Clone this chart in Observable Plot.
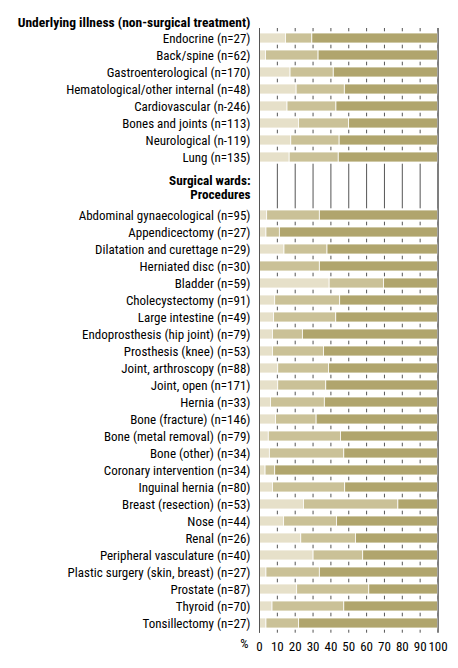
<!DOCTYPE html>
<html>
<head>
<meta charset="utf-8">
<script src="https://cdn.jsdelivr.net/npm/d3@7"></script>
<script src="https://cdn.jsdelivr.net/npm/@observablehq/plot@0.6"></script>
<style>
  html, body { margin: 0; padding: 0; background: #fff; }
  #chart svg { display: block; font-stretch: condensed; }
  #chart svg text { font-stretch: condensed; }
</style>
</head>
<body>
<div id="chart"></div>
<script>
// ---------- data ----------
const sectionTitle = "Underlying illness (non-surgical treatment)";
const surgicalHeader = ["Surgical wards:", "Procedures"];

const underlyingLabels = [
  "Endocrine (n=27)",
  "Back/spine (n=62)",
  "Gastroenterological (n=170)",
  "Hematological/other internal (n=48)",
  "Cardiovascular (n-246)",
  "Bones and joints (n=113)",
  "Neurological (n-119)",
  "Lung (n=135)"
];
const underlyingLow  = [14.8, 3.6, 17.4, 20.8, 15.7, 22.1, 17.8, 16.9];
const underlyingMid  = [14.8, 29.5, 24.2, 27.0, 27.4, 28.1, 27.1, 27.5];
const underlyingHigh = [70.4, 66.9, 58.4, 52.2, 56.9, 49.8, 55.1, 55.6];

const surgicalLabels = [
  "Abdominal gynaecological (n=95)",
  "Appendicectomy (n=27)",
  "Dilatation and curettage n=29)",
  "Herniated disc (n=30)",
  "Bladder (n=59)",
  "Cholecystectomy (n=91)",
  "Large intestine (n=49)",
  "Endoprosthesis (hip joint) (n=79)",
  "Prosthesis (knee) (n=53)",
  "Joint, arthroscopy (n=88)",
  "Joint, open (n=171)",
  "Hernia (n=33)",
  "Bone (fracture) (n=146)",
  "Bone (metal removal) (n=79)",
  "Bone (other) (n=34)",
  "Coronary intervention (n=34)",
  "Inguinal hernia (n=80)",
  "Breast (resection) (n=53)",
  "Nose (n=44)",
  "Renal (n=26)",
  "Peripheral vasculature (n=40)",
  "Plastic surgery (skin, breast) (n=27)",
  "Prostate (n=87)",
  "Thyroid (n=70)",
  "Tonsillectomy (n=27)"
];
const surgicalLow  = [4.3, 3.9, 14.0, 0, 39.3, 8.8, 8.2, 7.5, 7.5, 10.5, 10.5, 6.4, 9.3, 5.2, 5.8, 3.4, 7.5, 24.9, 13.8, 23.4, 30.3, 3.9, 21.1, 7.3, 3.9];
const surgicalMid  = [29.5, 7.5, 24.1, 33.8, 30.4, 36.4, 34.8, 16.8, 28.6, 28.4, 26.9, 30.2, 22.7, 40.4, 41.7, 5.4, 40.5, 52.9, 29.6, 30.6, 27.8, 29.9, 40.4, 40.2, 18.3];
const surgicalHigh = [66.2, 88.6, 61.9, 66.2, 30.3, 54.8, 57.0, 75.7, 63.9, 61.1, 62.6, 63.4, 68.0, 54.4, 52.5, 91.2, 52.0, 22.2, 56.6, 46.0, 41.9, 66.2, 38.5, 52.5, 77.8];

const shareNames  = ["low", "mid", "high"];
const shareColors = ["#e6e0c9", "#cac197", "#b0a56d"];
const xTicks = [0, 10, 20, 30, 40, 50, 60, 70, 80, 90, 100];
const percentSign = "%";

// ---------- helpers ----------
const FONT = "'Roboto Condensed', Roboto, sans-serif";
const FS = 13;
const INK = "#000";

function makeRows(labels, low, mid, high) {
  return labels.map((label, i) => ({label, low: low[i], mid: mid[i], high: high[i]}));
}
function toLong(rows) {
  return rows.flatMap(r => shareNames.map(s => ({label: r.label, share: s, value: r[s]})));
}

function barMarks(rows) {
  return [
    Plot.ruleX(xTicks, {stroke: "#555", strokeWidth: 1}),
    Plot.barX(rows, {x: d => d.low + d.mid + d.high, y: "label", fill: "#fff", insetTop: -1.7, insetBottom: -1.7, insetLeft: 0.5}),
    Plot.barX(toLong(rows), Plot.stackX({
      x: "value", y: "label", fill: "share", order: shareNames,
      stroke: "#fff", strokeWidth: 0.8
    })),
    Plot.ruleX([xTicks[0], xTicks[xTicks.length - 1]], {stroke: "#555", strokeWidth: 1}),
    Plot.axisY({tickSize: 0, tickPadding: 9, label: null, fontSize: FS, fill: INK})
  ];
}

const common = {
  width: 458,
  marginLeft: 259,
  marginRight: 20.5,
  style: {fontFamily: FONT, fontSize: FS + "px", color: INK, background: "#fff"},
  x: {domain: [xTicks[0], xTicks[xTicks.length - 1]], axis: null},
  color: {domain: shareNames, range: shareColors}
};

// ---------- top block: underlying illness ----------
const topRows = makeRows(underlyingLabels, underlyingLow, underlyingMid, underlyingHigh);
const topChart = Plot.plot({
  ...common,
  height: 205,
  marginTop: 28,
  marginBottom: 0,
  y: {domain: underlyingLabels, paddingInner: 0.44, paddingOuter: 1.362, align: 0.1065, axis: null},
  marks: [
    ...barMarks(topRows),
    Plot.text([sectionTitle], {frameAnchor: "top-left", textAnchor: "end", dx: -9, dy: -11, fontWeight: "bold", fontSize: 13.5, fill: INK}),
    Plot.text([surgicalHeader[0]], {frameAnchor: "bottom-left", textAnchor: "end", dx: -9, dy: -20.7, fontWeight: "bold", fontSize: 13.2, fill: INK}),
    Plot.text([surgicalHeader[1]], {frameAnchor: "bottom-left", textAnchor: "end", dx: -9, dy: -6.5, fontWeight: "bold", fontSize: 13.2, fill: INK})
  ]
});

// ---------- bottom block: surgical procedures ----------
const bottomRows = makeRows(surgicalLabels, surgicalLow, surgicalMid, surgicalHigh);
const bottomChart = Plot.plot({
  ...common,
  height: 463,
  marginTop: 0,
  marginBottom: 35.3,
  y: {domain: surgicalLabels, paddingInner: 0.44, paddingOuter: 0.26, align: 0.443, axis: null},
  marks: [
    ...barMarks(bottomRows),
    Plot.axisX(xTicks, {tickSize: 0, tickPadding: 9, label: null, fontSize: FS, fill: INK}),
    Plot.text([percentSign], {frameAnchor: "bottom-left", textAnchor: "end", dx: -11, dy: 15, fontSize: FS, fill: INK})
  ]
});

const host = document.getElementById("chart");
host.appendChild(topChart);
host.appendChild(bottomChart);
</script>
</body>
</html>
